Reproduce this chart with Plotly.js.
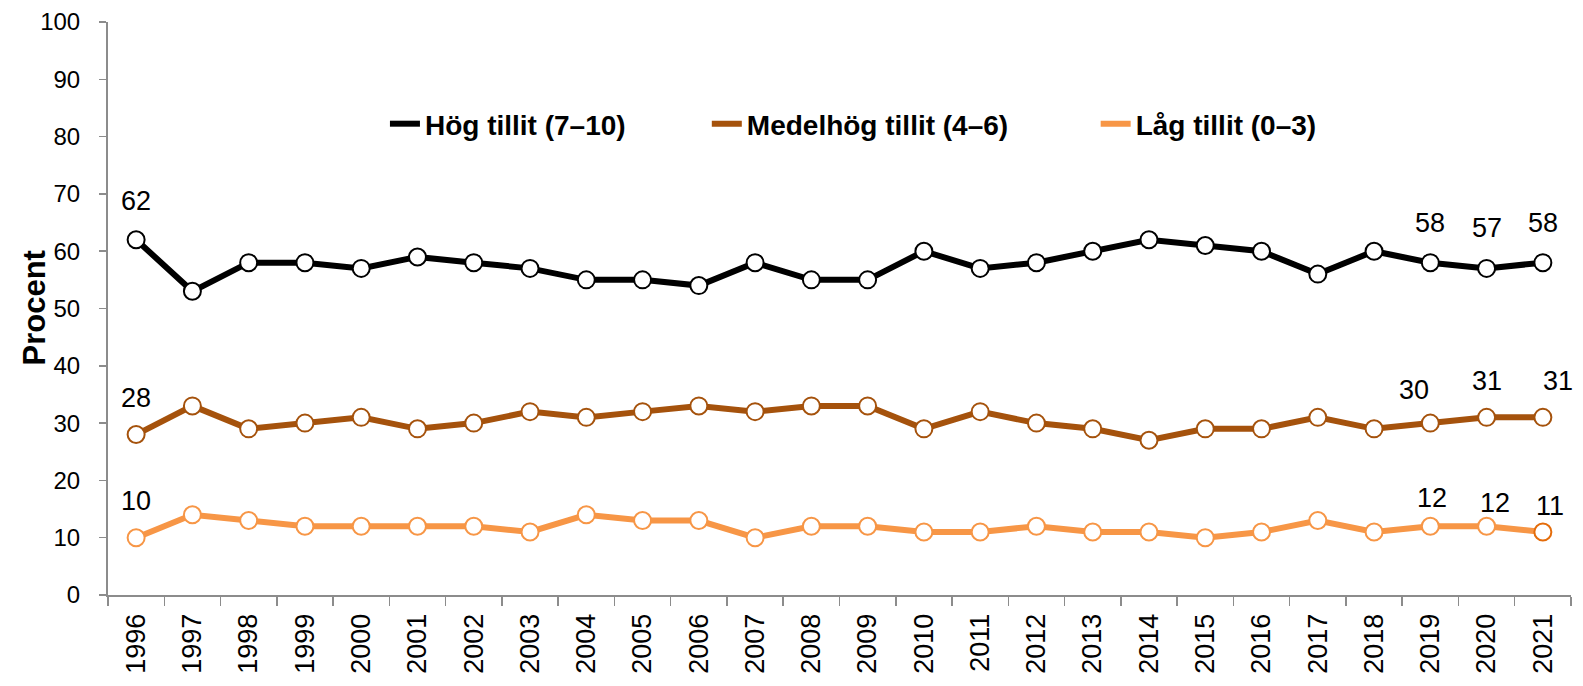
<!DOCTYPE html>
<html>
<head>
<meta charset="utf-8">
<script src="https://cdn.plot.ly/plotly-3.0.1.min.js"></script>
<style>html,body{margin:0;padding:0;background:#fff;}#chart{width:1583px;height:686px;}</style>
</head>
<body>
<div id="chart"></div>
<script>
// ---- data ----
const years = ["1996","1997","1998","1999","2000","2001","2002","2003","2004","2005","2006","2007","2008",
               "2009","2010","2011","2012","2013","2014","2015","2016","2017","2018","2019","2020","2021"];
const hogValues    = [62,53,58,58,57,59,58,57,55,55,54,58,55,55,60,57,58,60,62,61,60,56,60,58,57,58];
const medelValues  = [28,33,29,30,31,29,30,32,31,32,33,32,33,33,29,32,30,29,27,29,29,31,29,30,31,31];
const lagValues    = [10,14,13,12,12,12,12,11,14,13,13,10,12,12,11,11,12,11,11,10,11,13,11,12,12,11];
const seriesNames  = ["Hög tillit (7–10)", "Medelhög tillit (4–6)", "Låg tillit (0–3)"];
const labelYears   = ["1996","2019","2020","2021"];
const yTickValues  = [0,10,20,30,40,50,60,70,80,90,100];
const yTitle       = "Procent";

// ---- styles ----
const FONT = "Liberation Sans, Arial, sans-serif";
const colors = ["#000000", "#A5520C", "#F79646"];
const markerLineColors = [
  "#000000",
  "#A5520C",
  years.map((y, i) => i === years.length - 1 ? "#E46C0A" : "#F79646")
];
// label offsets (px) per series, per label year
const labelShifts = [
  [[0,39],[0,40],[0,40],[0,40]],
  [[0,37],[-16,33],[0,36],[15,36]],
  [[0,37],[2,28],[8,23],[7,26]]
];
const allValues = [hogValues, medelValues, lagValues];
const legendIds = ["legend", "legend2", "legend3"];
const legendX = [0.1893, 0.4093, 0.6751];

const traces = allValues.map((vals, s) => ({
  type: "scatter",
  mode: "lines+markers",
  x: years,
  y: vals,
  name: seriesNames[s],
  showlegend: false,
  line: {color: colors[s], width: 6},
  marker: {symbol: "circle", size: 17, color: "#ffffff",
           line: {color: markerLineColors[s], width: 2}},
  cliponaxis: false
}));
// legend entries (line only, as in the reference)
seriesNames.forEach((nm, s) => {
  traces.push({
    type: "scatter", mode: "lines", x: [null], y: [null],
    name: nm, legend: legendIds[s], showlegend: true,
    line: {color: colors[s], width: 6}
  });
});

const annotations = [];
allValues.forEach((vals, s) => {
  labelYears.forEach((yr, k) => {
    const idx = years.indexOf(yr);
    annotations.push({
      x: idx, y: vals[idx], xref: "x", yref: "y",
      text: String(vals[idx]), showarrow: false,
      xshift: labelShifts[s][k][0], yshift: labelShifts[s][k][1],
      font: {family: FONT, size: 27, color: "#000000"},
      xanchor: "center", yanchor: "middle"
    });
  });
});
// y-axis title
annotations.push({
  x: 0, y: 0.5, xref: "paper", yref: "paper", xanchor: "center", yanchor: "middle",
  xshift: -74, textangle: -90, showarrow: false, text: yTitle,
  font: {family: FONT, size: 31, color: "#000000", weight: "bold"}
});

const legendCommon = {
  orientation: "h", yanchor: "middle", xanchor: "left", y: 0.822,
  bgcolor: "rgba(0,0,0,0)", borderwidth: 0,
  font: {family: FONT, size: 28, color: "#000000", weight: "bold"},
  itemwidth: 30, itemclick: false, itemdoubleclick: false
};

const layout = {
  width: 1583, height: 686,
  margin: {l: 108, r: 11.5, t: 22, b: 91, pad: 0},
  paper_bgcolor: "#ffffff", plot_bgcolor: "#ffffff",
  font: {family: FONT, color: "#000000"},
  showlegend: true,
  legend:  Object.assign({}, legendCommon, {x: legendX[0]}),
  legend2: Object.assign({}, legendCommon, {x: legendX[1]}),
  legend3: Object.assign({}, legendCommon, {x: legendX[2]}),
  xaxis: {
    type: "category",
    range: [-0.5, years.length - 0.5],
    showline: true, linecolor: "#8C8C8C", linewidth: 2,
    ticks: "outside", tickson: "boundaries", ticklen: 9, tickwidth: 1.5, tickcolor: "#8C8C8C",
    tickangle: -90, tickfont: {family: FONT, size: 27, color: "#000000"},
    ticklabelstandoff: 6,
    showgrid: false, zeroline: false, fixedrange: true
  },
  yaxis: {
    range: [0, 100],
    tickvals: yTickValues,
    showline: true, linecolor: "#8C8C8C", linewidth: 2,
    ticks: "outside", ticklen: 7, tickwidth: 1.5, tickcolor: "#8C8C8C",
    tickfont: {family: FONT, size: 24, color: "#000000"},
    ticklabelstandoff: 14,
    showgrid: false, zeroline: false, fixedrange: true
  },
  annotations: annotations
};

Plotly.newPlot("chart", traces, layout, {displayModeBar: false, staticPlot: true});
</script>
</body>
</html>
